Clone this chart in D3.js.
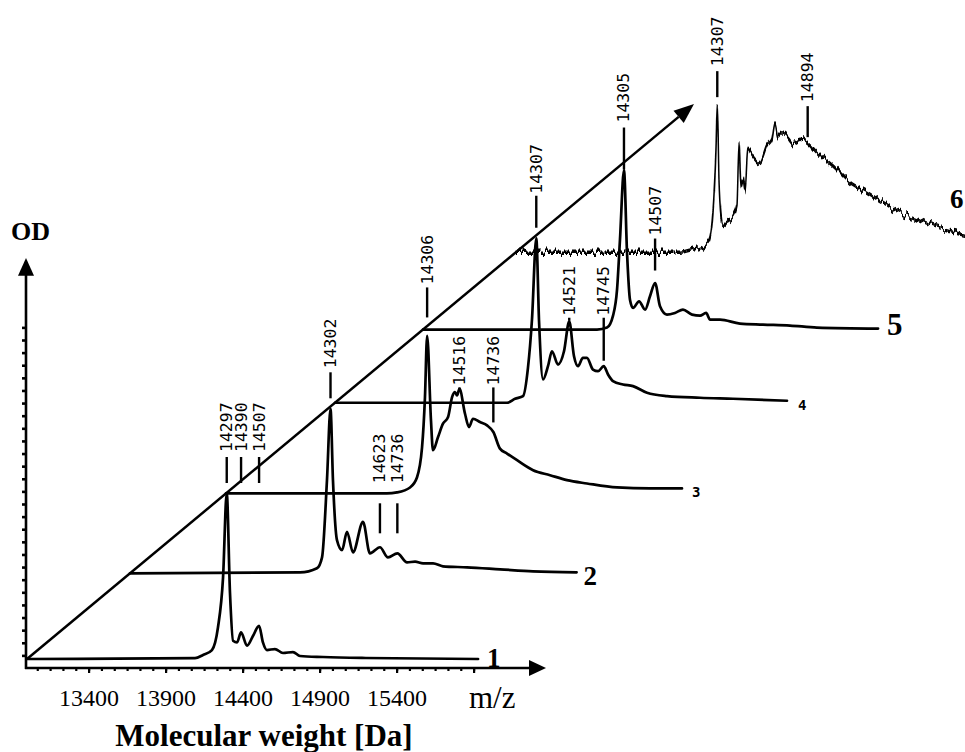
<!DOCTYPE html>
<html>
<head>
<meta charset="utf-8">
<script src="https://cdn.jsdelivr.net/npm/d3@7"></script>
<style>
  html, body { margin: 0; padding: 0; background: #fff; }
  svg { display: block; }
</style>
</head>
<body>
<svg id="chart" width="965" height="752"></svg>
<script>
// Spectra in depth order (front to back)
const spectra = ["1", "2", "3", "4", "5", "6"];

// Each trace: m/z [Da] and relative intensity (% of the main peak scale)
const mz1 = [13000, 14091, 14143, 14201, 14240, 14273, 14297, 14318, 14338, 14364, 14390, 14429, 14468, 14507, 14532, 14558, 14610, 14662, 14727, 14773, 14922, 15200, 15929];
const od1 = [0, 0.5, 2.4, 5.4, 19, 49, 100, 40, 11, 10, 16, 8, 14, 20, 10, 5.4, 6, 3.6, 4.2, 1.8, 1.2, 0.6, 0];

const mz2 = [13000, 14104, 14214, 14247, 14279, 14302, 14318, 14344, 14377, 14409, 14448, 14513, 14558, 14623, 14675, 14736, 14799, 14851, 14903, 14968, 15032, 15188, 15403, 15617, 15900];
const od2 = [0, 0.5, 3, 9.6, 56, 99, 56, 20, 14, 25, 12.6, 31, 12, 15.7, 9.6, 12, 6.6, 7, 6, 6, 4.2, 3.6, 2.4, 1.2, 0.6];

const mz3 = [13000, 14045, 14110, 14195, 14240, 14273, 14292, 14306, 14331, 14344, 14377, 14409, 14442, 14468, 14487, 14500, 14516, 14552, 14578, 14604, 14649, 14695, 14736, 14779, 14825, 14890, 14994, 15104, 15214, 15344, 15539, 15753, 15961];
const od3 = [0, 0, 0.6, 3.6, 9.6, 27.7, 58, 95, 44, 26, 34, 42, 46, 58, 61, 59, 63, 48, 40, 45, 43, 41, 37, 27, 24, 20, 14, 11, 8, 6, 3.6, 3, 3];

const mz4 = [13000, 14117, 14169, 14221, 14253, 14279, 14307, 14325, 14351, 14383, 14409, 14448, 14487, 14521, 14552, 14578, 14610, 14636, 14675, 14708, 14745, 14773, 14805, 14870, 14935, 15026, 15156, 15370, 15584, 15935];
const od4 = [0, 0, 2.4, 4, 21, 50, 99, 49, 14, 22, 31, 23, 31, 49, 28, 22, 27, 27, 20, 19, 22, 17, 13, 11, 10, 6, 4, 3, 2.4, 1.2];

const mz5 = [13000, 14130, 14195, 14234, 14260, 14279, 14305, 14325, 14344, 14364, 14403, 14442, 14474, 14507, 14539, 14584, 14636, 14688, 14747, 14799, 14838, 14864, 14929, 15058, 15208, 15383, 15558, 15955];
const od5 = [0, 0, 1.2, 8.4, 24, 54, 96, 46, 18, 13, 17, 12, 20, 28, 14, 9, 10, 12, 9, 8.4, 10, 6, 6, 3.6, 3, 2.4, 1.2, 0.6];

const mz6 = [13000, 14065, 14149, 14214, 14253, 14279, 14299, 14307, 14318, 14331, 14344, 14370, 14409, 14435, 14448, 14461, 14474, 14487, 14506, 14539, 14584, 14630, 14662, 14682, 14701, 14727, 14760, 14799, 14844, 14894, 14955, 15058, 15169, 15279, 15383, 15494, 15604, 15708, 15818, 15950];
const od6 = [0, 0, 1.8, 3.6, 6.6, 24, 64, 90, 44, 22, 16, 18, 21, 28, 66, 40, 44, 37, 62, 58, 54, 64, 68, 78, 70, 72, 70, 66, 68, 66, 60, 52, 42, 36, 30, 24, 20, 16, 13, 10];

const traceMz = [mz1, mz2, mz3, mz4, mz5, mz6];
const traceOd = [od1, od2, od3, od4, od5, od6];

// Labelled peaks: which spectrum, and the mass written beside it
const peakSpectrum = ["1", "1", "1", "2", "2", "2", "3", "3", "3", "4", "4", "4", "5", "5", "6", "6"];
const peakMass = [14297, 14390, 14507, 14302, 14623, 14736, 14306, 14516, 14736, 14307, 14521, 14745, 14305, 14507, 14307, 14894];

// Mass axis
const massTicks = [13400, 13900, 14400, 14900, 15400];

// ---------- layout ----------
const svg = d3.select("#chart");
const ink = "#000";
const serif = "'Liberation Serif', 'Times New Roman', serif";
const mono = "'DejaVu Sans Mono', monospace";

const x = d3.scaleLinear().domain([13000, 16000]).range([27, 489]);
const h = d3.scaleLinear().domain([0, 100]).range([0, 166]);          // intensity -> height in px
const od = d3.scaleLinear().domain([0, 32.5]).range([668, 258]);     // OD axis
const depth = d3.scaleOrdinal().domain(spectra).range([0, 103, 199, 308, 396, 489]); // shift along the depth diagonal
const slope = 0.832;
const base0 = 659;
const baseY = id => base0 - slope * depth(id);

// callout geometry per peak, px above the trace baseline: [tick bottom, tick top, text start]
const callout = {
  "1-14297": [176, 202, 207], "1-14390": [176, 202, 207], "1-14507": [176, 202, 207],
  "2-14302": [175, 201, 205], "2-14623": [40, 70, 90], "2-14736": [40, 70, 90],
  "3-14306": [176, 206, 209], "3-14516": [102, 106, 108], "3-14736": [71, 106, 108],
  "4-14307": [175, 207, 209], "4-14521": [82, 85, 87], "4-14745": [42, 85, 87],
  "5-14305": [160, 202, 207], "5-14507": [59, 91, 94],
  "6-14307": [155, 181, 186], "6-14894": [115, 146, 150]
};

// noise texture for the raw (unsmoothed) back trace
const defs = svg.append("defs");
const f = defs.append("filter").attr("id", "rawTrace")
  .attr("x", "-2%").attr("y", "-10%").attr("width", "104%").attr("height", "120%");
f.append("feTurbulence").attr("type", "fractalNoise").attr("baseFrequency", "0.33 0.015")
  .attr("numOctaves", 2).attr("seed", 7).attr("result", "noise");
f.append("feColorMatrix").attr("in", "noise").attr("type", "matrix")
  .attr("values", "0 0 0 0 0.5  0 1.4 0 0 -0.2  0 0 0 0 0  0 0 0 0 1").attr("result", "shift");
f.append("feDisplacementMap").attr("in", "SourceGraphic").attr("in2", "shift")
  .attr("scale", 9).attr("xChannelSelector", "R").attr("yChannelSelector", "G")
  .attr("result", "moved");
f.append("feMorphology").attr("in", "moved").attr("operator", "dilate").attr("radius", "0 0.6");

// ---------- axes ----------
const axX = svg.append("g").attr("transform", `translate(0,${od(0)})`);
const minorX = d3.range(-4, 31).map(k => 13400 + k * 500 / 6);
axX.append("g").call(d3.axisBottom(x).tickValues(minorX).tickSize(3).tickFormat(""))
  .call(g => g.select(".domain").remove())
  .call(g => g.selectAll("line").attr("stroke", ink).attr("stroke-width", 2.2));
const majorX = d3.range(13400, 16000, 500);
axX.append("g").call(d3.axisBottom(x).tickValues(majorX).tickSize(5)
    .tickFormat(d => massTicks.includes(d) ? String(d) : ""))
  .call(g => g.select(".domain").remove())
  .call(g => g.selectAll("line").attr("stroke", ink).attr("stroke-width", 2.2))
  .call(g => g.selectAll("text").attr("dy", null).attr("y", 38)
    .attr("font-family", serif).attr("font-size", 24).attr("fill", ink));
axX.append("line").attr("x1", 25).attr("x2", 532).attr("y1", 0).attr("y2", 0)
  .attr("stroke", ink).attr("stroke-width", 2.6);
axX.append("path").attr("d", "M546,0 L529,-8 L529,8 Z").attr("fill", ink);

const axY = svg.append("g").attr("transform", `translate(26,0)`);
axY.append("g").call(d3.axisLeft(od).tickValues(d3.range(1, 28)).tickSize(4).tickFormat(""))
  .call(g => g.select(".domain").remove())
  .call(g => g.selectAll("line").attr("stroke", ink).attr("stroke-width", 2.6));
axY.append("line").attr("x1", 0).attr("x2", 0).attr("y1", od(0) + 1).attr("y2", od(31.3))
  .attr("stroke", ink).attr("stroke-width", 2.6);
axY.append("path").attr("d", `M0,${od(32.5)} L-8,${od(31.1)} L8,${od(31.1)} Z`).attr("fill", ink);

svg.append("text").attr("x", 11).attr("y", 240).text("OD")
  .attr("font-family", serif).attr("font-weight", "bold").attr("font-size", 26).attr("fill", ink);
svg.append("text").attr("x", 469).attr("y", 708).text("m/z")
  .attr("font-family", serif).attr("font-size", 31).attr("fill", ink);
svg.append("text").attr("x", 264).attr("y", 746).attr("text-anchor", "middle").text("Molecular weight [Da]")
  .attr("font-family", serif).attr("font-weight", "bold").attr("font-size", 31).attr("fill", ink);

// ---------- depth diagonal ----------
const tipDx = 667;
const x0 = x(13000), tipX = x0 + tipDx, tipY = base0 - slope * tipDx;
const ang = Math.atan2(tipY - base0, tipX - x0);
const headLen = 20, headHalf = 8;
const bx = tipX - headLen * Math.cos(ang), by = tipY - headLen * Math.sin(ang);
svg.append("line").attr("x1", x0).attr("y1", base0).attr("x2", bx).attr("y2", by)
  .attr("stroke", ink).attr("stroke-width", 2.5);
svg.append("path").attr("fill", ink).attr("d",
  `M${tipX},${tipY} L${bx + headHalf * Math.sin(ang)},${by - headHalf * Math.cos(ang)} ` +
  `L${bx - headHalf * Math.sin(ang)},${by + headHalf * Math.cos(ang)} Z`);

// ---------- spectra ----------
const traces = spectra.map((id, i) => ({
  id, pts: traceMz[i].map((m, j) => ({ m, v: traceOd[i][j] }))
}));

const line = id => d3.line()
  .x(d => x(d.m) + depth(id))
  .y(d => baseY(id) - h(d.v))
  .curve(d3.curveMonotoneX);

svg.append("g").selectAll("path").data(traces).join("path")
  .attr("d", t => line(t.id)(t.pts))
  .attr("fill", "none").attr("stroke", ink)
  .attr("stroke-linejoin", "round").attr("stroke-linecap", "round")
  .attr("stroke-width", t => t.id === "6" ? 1.5 : 2.7)
  .attr("filter", t => t.id === "6" ? "url(#rawTrace)" : null);

// trace numbers
const numberStyle = {
  "1": { font: serif, size: 27, dx: 9, dy: -1 },
  "2": { font: serif, size: 27, dx: 7, dy: 3 },
  "3": { font: mono, size: 14, dx: 10, dy: -1 },
  "4": { font: mono, size: 14, dx: 11, dy: 2 },
  "5": { font: serif, size: 31, dx: 9, dy: -5 }
};
traces.filter(t => t.id !== "6").forEach(t => {
  const s = numberStyle[t.id];
  const last = t.pts[t.pts.length - 1];
  svg.append("text")
    .attr("x", x(last.m) + depth(t.id) + s.dx)
    .attr("y", baseY(t.id) + s.dy)
    .attr("dominant-baseline", "central")
    .attr("font-family", s.font).attr("font-weight", "bold").attr("font-size", s.size)
    .attr("fill", ink).text(t.id);
});
svg.append("text").attr("x", 950).attr("y", 199).attr("dominant-baseline", "central")
  .attr("font-family", serif).attr("font-weight", "bold").attr("font-size", 27)
  .attr("fill", ink).text("6");

// ---------- peak callouts ----------
const calls = peakMass.map((m, i) => ({ m, id: peakSpectrum[i], g: callout[`${peakSpectrum[i]}-${m}`] }));
const cg = svg.append("g");
calls.forEach(c => {
  const cx = x(c.m) + depth(c.id);
  const b = baseY(c.id);
  cg.append("line").attr("x1", cx).attr("x2", cx)
    .attr("y1", b - c.g[0]).attr("y2", b - c.g[1])
    .attr("stroke", ink).attr("stroke-width", 2.4);
  cg.append("text")
    .attr("transform", `translate(${cx},${b - c.g[2]}) rotate(-90)`)
    .attr("dominant-baseline", "central")
    .attr("font-family", mono).attr("font-size", 16.5).attr("fill", ink)
    .text(c.m);
});
</script>
</body>
</html>
